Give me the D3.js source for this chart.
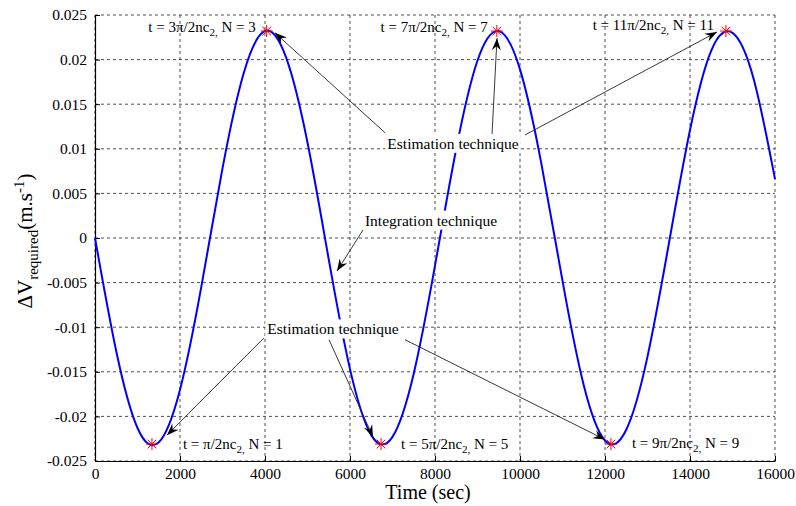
<!DOCTYPE html>
<html>
<head>
<meta charset="utf-8">
<script src="https://cdn.jsdelivr.net/npm/d3@7"></script>
<style>
  body { margin: 0; background: #fff; }
  text { font-family: "Liberation Serif", "Times New Roman", Times, "DejaVu Serif", serif; fill: #000; }
</style>
</head>
<body>
<div id="graph"></div>
<script>
// curve, every 500 s
var timeSec = [0, 500, 1000, 1500, 2000, 2500, 3000, 3500, 4000, 4500, 5000, 5500,
    6000, 6500, 7000, 7500, 8000, 8500, 9000, 9500, 10000, 10500, 11000, 11500,
    12000, 12500, 13000, 13500, 14000, 14500, 15000, 15500, 16000];
var dV = [0, -0.0127, -0.0213, -0.0229, -0.0170, -0.0055, 0.0078, 0.0185, 0.0232, 0.0202, 0.0107, -0.0024,
    -0.0147, -0.0221, -0.0223, -0.0152, -0.0031, 0.0100, 0.0199, 0.0232, 0.0189, 0.0084, -0.0048, -0.0165,
    -0.0227, -0.0215, -0.0133, -0.0007, 0.0121, 0.0210, 0.0230, 0.0178, 0.0066];

// estimation points (red stars)
var estN = [1, 3, 5, 7, 9, 11];
var estT = [1340, 4040, 6730, 9455, 12140, 14845];
var estV = [-0.0231, 0.0232, -0.0231, 0.0232, -0.0231, 0.0232];

var xTicks = [0, 2000, 4000, 6000, 8000, 10000, 12000, 14000, 16000];
var yTicks = [-0.025, -0.02, -0.015, -0.01, -0.005, 0, 0.005, 0.01, 0.015, 0.02, 0.025];
var yTickLabels = ["-0.025", "-0.02", "-0.015", "-0.01", "-0.005", "0", "0.005", "0.01", "0.015", "0.02", "0.025"];

// annotation labels (data coords of label centre) and arrows (start -> tip, data coords)
var noteText = ["Estimation technique", "Integration technique", "Estimation technique"];
var noteT = [8424, 7906, 5600];
var noteV = [0.0106, 0.0020, -0.0102];
var arrowFromT = [6824, 9341, 10118, 6306, 3976, 5506, 7294];
var arrowFromV = [0.0118, 0.01155, 0.01155, 0.0009, -0.0112, -0.0114, -0.0114];
var arrowToT = [4235, 9459, 14635, 5694, 1694, 6541, 12000];
var arrowToV = [0.0230, 0.0224, 0.0231, -0.0037, -0.0221, -0.0223, -0.0226];

var margin = { top: 15, right: 21, bottom: 45, left: 95 },
    width = 796 - margin.left - margin.right,
    height = 506 - margin.top - margin.bottom;

var x = d3.scaleLinear().domain([0, 16000]).range([0, width]);
var y = d3.scaleLinear().domain([-0.025, 0.025]).range([height, 0]);

var svg = d3.select("#graph").append("svg")
    .attr("width", 796)
    .attr("height", 506)
    .append("g")
    .attr("transform", "translate(" + margin.left + "," + margin.top + ")");

svg.append("defs").append("marker")
    .attr("id", "head")
    .attr("viewBox", "-12 -6 14 12")
    .attr("refX", 0).attr("refY", 0)
    .attr("markerWidth", 14).attr("markerHeight", 12)
    .attr("markerUnits", "userSpaceOnUse")
    .attr("orient", "auto")
    .append("path")
    .attr("d", "M0,0 L-12,-4.5 L-8,0 L-12,4.5 Z")
    .attr("fill", "#000");

// grid
svg.selectAll(".vgrid").data(xTicks).enter().append("line")
    .attr("x1", function (d) { return x(d); }).attr("x2", function (d) { return x(d); })
    .attr("y1", 0).attr("y2", height)
    .attr("stroke", "#222").attr("stroke-width", 0.8).attr("stroke-dasharray", "3,3");
svg.selectAll(".hgrid").data(yTicks).enter().append("line")
    .attr("x1", 0).attr("x2", width)
    .attr("y1", function (d) { return y(d); }).attr("y2", function (d) { return y(d); })
    .attr("stroke", "#222").attr("stroke-width", 0.8).attr("stroke-dasharray", "3,3");

// axes
var xAxis = d3.axisBottom(x).tickValues(xTicks).tickSizeInner(-5).tickSizeOuter(0)
    .tickPadding(7).tickFormat(function (d) { return d; });
var yAxis = d3.axisLeft(y).tickValues(yTicks).tickSizeInner(-5).tickSizeOuter(0)
    .tickPadding(8).tickFormat(function (d, i) { return yTickLabels[i]; });

var gx = svg.append("g").attr("transform", "translate(0," + height + ")").call(xAxis);
var gy = svg.append("g").call(yAxis);
[gx, gy].forEach(function (g) {
    g.attr("font-family", null);
    g.select(".domain").attr("stroke", "#000").attr("stroke-width", 1.2);
    g.selectAll(".tick line").attr("stroke", "#000");
    g.selectAll(".tick text").style("font-size", "15.5px").attr("fill", "#000");
});

// curve
var line = d3.line()
    .x(function (d, i) { return x(timeSec[i]); })
    .y(function (d) { return y(d); })
    .curve(d3.curveNatural);
svg.append("path")
    .datum(dV)
    .attr("d", line)
    .attr("fill", "none")
    .attr("stroke", "#0000ff")
    .attr("stroke-width", 2);

// red stars
var star = svg.selectAll(".star").data(estT).enter().append("g")
    .attr("transform", function (d, i) { return "translate(" + x(d) + "," + y(estV[i]) + ")"; });
[[-6, 0, 6, 0], [0, -6, 0, 6], [-4.3, -4.3, 4.3, 4.3], [-4.3, 4.3, 4.3, -4.3]].forEach(function (s) {
    star.append("line").attr("x1", s[0]).attr("y1", s[1]).attr("x2", s[2]).attr("y2", s[3])
        .attr("stroke", "#ff0000").attr("stroke-width", 1);
});

// t labels next to the stars
var labDx = [31, -11, 20, -9, 21, -12];
var labDy = [5, 1, 5, 1, 4, -1];
var tlab = svg.selectAll(".tlab").data(estN).enter().append("text")
    .attr("x", function (d, i) { return x(estT[i]) + labDx[i]; })
    .attr("y", function (d, i) { return y(estV[i]) + labDy[i]; })
    .attr("text-anchor", function (d, i) { return estV[i] > 0 ? "end" : "start"; })
    .style("font-size", "15px");
tlab.append("tspan").text(function (d) { return "t = " + (d === 1 ? "" : d) + "\u03c0/2nc"; });
tlab.append("tspan").attr("dy", 4).style("font-size", "11px").text("2,");
tlab.append("tspan").attr("dy", -4).text(function (d) { return " N = " + d; });

// arrows
svg.selectAll(".arrow").data(arrowFromT).enter().append("line")
    .attr("x1", function (d) { return x(d); })
    .attr("y1", function (d, i) { return y(arrowFromV[i]); })
    .attr("x2", function (d, i) { return x(arrowToT[i]); })
    .attr("y2", function (d, i) { return y(arrowToV[i]); })
    .attr("stroke", "#222").attr("stroke-width", 0.9)
    .attr("marker-end", "url(#head)");

// boxed notes
noteText.forEach(function (t, i) {
    var g = svg.append("g");
    var txt = g.append("text")
        .attr("x", x(noteT[i]))
        .attr("y", y(noteV[i]))
        .attr("dy", "0.35em")
        .attr("text-anchor", "middle")
        .style("font-size", "15.5px")
        .text(t);
    var bb = txt.node().getBBox();
    g.insert("rect", "text")
        .attr("x", bb.x - 2).attr("y", bb.y - 1)
        .attr("width", bb.width + 4).attr("height", bb.height + 2)
        .attr("fill", "#fff");
});

// axis titles
svg.append("text")
    .attr("x", x(8000) - 7)
    .attr("y", height + 38)
    .attr("text-anchor", "middle")
    .style("font-size", "20px")
    .text("Time (sec)");

var yl = svg.append("text")
    .attr("transform", "translate(" + (32 - margin.left) + "," + (241 - margin.top) + ") rotate(-90)")
    .attr("text-anchor", "middle")
    .style("font-size", "21px");
yl.append("tspan").text("\u0394V");
yl.append("tspan").attr("dy", 6).style("font-size", "15px").text("required");
yl.append("tspan").attr("dy", -6).text("(m.s");
yl.append("tspan").attr("dy", -8).style("font-size", "15px").text("-1");
yl.append("tspan").attr("dy", 8).text(")");
</script>
</body>
</html>
